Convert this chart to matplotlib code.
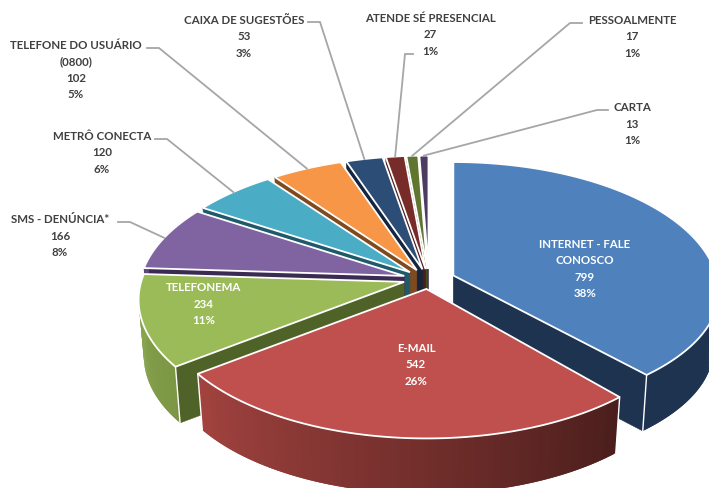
import numpy as np
import matplotlib
matplotlib.use("Agg")
import matplotlib.pyplot as plt
from matplotlib.colors import LinearSegmentedColormap
from matplotlib.patches import Polygon

# ---- data ----
categories = ["INTERNET - FALE\nCONOSCO", "E-MAIL", "TELEFONEMA", "SMS - DENÚNCIA*", "METRÔ CONECTA",
              "TELEFONE DO USUÁRIO\n(0800)", "CAIXA DE SUGESTÕES", "ATENDE SÉ PRESENCIAL",
              "PESSOALMENTE", "CARTA"]
values = [799, 542, 234, 166, 120, 102, 53, 27, 17, 13]
percents = ["38%", "26%", "11%", "8%", "6%", "5%", "3%", "1%", "1%", "1%"]

# ---- styles ----
top_colors = ["#4f81bd", "#c0504d", "#9bbb59", "#8064a2", "#4bacc6", "#f79646",
              "#2c4d75", "#772c2a", "#5f7530", "#4d3b62"]
face_colors = ["#1d334f", "#4d1f1c", "#4f6228", "#3b2b52", "#1f5a6b", "#7f4a1e",
               "#14253f", "#4f1a18", "#3f4f20", "#2d2340"]
outer_colors = [("#1d334f", "#1d334f"), ("#4a1e1c", "#a3433f"), ("#7c9645", "#8aa94f"),
                ("#5c4877", "#5c4877"), ("#35809a", "#35809a"), ("#b66d31", "#b66d31"),
                ("#1f3856", "#1f3856"), ("#561f1e", "#561f1e"), ("#455623", "#455623"),
                ("#372a47", "#372a47")]
label_pos = [(585, 269), (416, 365), (204, 304), (60, 236), (102, 153), (76, 70),
             (244, 37), (430, 35), (632, 37), (632, 124)]
label_white = [True, True, True] + [False] * 7
elbows = [None, None, None,
          [(118, 223), (130, 223)], [(155, 140), (167, 140)], [(147, 49), (159, 49)],
          [(308, 23), (320, 23)], [(413, 55), (405, 55)], [(582, 24), (570, 24)],
          [(608, 111), (597, 111)]]
front_scale = [0.92, 1, 1, 1, 1, 1, 1, 1, 1, 1]

# ---- geometry of the 3-D pie, in pixels ----
W, H = 709, 489
CX, CY = 429, 280        # pie centre
EX, EY = 26, 10          # explosion of every slice
A, B, P = 263, 129, 0.137  # radii and perspective
DEPTH, SHRINK = 57, 0.98

fig = plt.figure(figsize=(W / 100, H / 100), dpi=100, facecolor="white")
ax = fig.add_axes([0, 0, 1, 1])
ax.set_xlim(0, W)
ax.set_ylim(H, 0)
ax.axis("off")

fracs = np.array(values) / np.sum(values)
edges = np.concatenate([[0], np.cumsum(fracs)]) * 2 * np.pi


def apex(i):
    b = (edges[i] + edges[i + 1]) / 2
    return CX + EX * np.sin(b), CY - EY * np.cos(b)


def rim(i, t, bottom=False):
    ax0, ay0 = apex(i)
    s = 1 / (1 + P * np.cos(t))
    x = ax0 + A * np.sin(t) * s
    by = B * (front_scale[i] if np.cos(t) < 0 else 1)
    y = ay0 - by * np.cos(t) * s
    if bottom:
        x = ax0 + (x - ax0) * SHRINK
        y = ay0 + (y - ay0) * 0.99 + DEPTH
    return x, y


def apex_bottom(i):
    x, y = apex(i)
    return x, y + DEPTH


def draw_slice(i, z):
    t0, t1 = edges[i], edges[i + 1]
    a = apex(i)
    ab = apex_bottom(i)
    # cut face at the end angle, then the one at the start angle
    for t, vis in ((t1, t1 < np.pi), (t0, t0 > np.pi)):
        if vis:
            ax.add_patch(Polygon([a, rim(i, t), rim(i, t, True), ab], closed=True,
                                 fc=face_colors[i], ec=face_colors[i], lw=0.4, zorder=z))
    # outer wall, only the part facing the viewer; each strip overlaps the next
    cmap = LinearSegmentedColormap.from_list("w", outer_colors[i])
    n = max(int((t1 - t0) * 90), 2)
    ts = np.linspace(t0, t1, n + 1)
    for k in range(n):
        if np.cos((ts[k] + ts[k + 1]) / 2) > 0.12:
            continue
        c = cmap((k + 0.5) / n)
        t2 = ts[min(k + 2, n)]
        ax.add_patch(Polygon([rim(i, ts[k]), rim(i, ts[k + 1]), rim(i, t2),
                              rim(i, t2, True), rim(i, ts[k + 1], True), rim(i, ts[k], True)],
                             closed=True, fc=c, ec="none", zorder=z + 0.1))
    # white arrises of the visible walls
    for t in (t0, t1):
        if np.cos(t) < 0.05:
            p, q = rim(i, t), rim(i, t, True)
            ax.plot([p[0], q[0]], [p[1], q[1]], color="white", lw=1.0, zorder=z + 0.2)
    # top surface
    tt = np.linspace(t0, t1, 120)
    pts = [a] + [rim(i, t) for t in tt]
    ax.add_patch(Polygon(pts, closed=True, fc=top_colors[i], ec="white", lw=1.3,
                         joinstyle="miter", zorder=z + 0.3))


order = [9, 8, 7, 6, 5, 4, 3, 2, 0, 1]
for n, i in enumerate(order):
    draw_slice(i, 2 + n)

# ---- labels and leaders ----
FONT = "Lato"
for i, name in enumerate(categories):
    x, y = label_pos[i]
    col = "white" if label_white[i] else "#404040"
    ax.text(x, y, f"{name}\n{values[i]}\n{percents[i]}", ha="center", va="center",
            multialignment="center", color=col, fontsize=8.3, fontweight="bold",
            family=FONT, linespacing=1.62, zorder=30)
    if elbows[i] is not None:
        end = rim(i, (edges[i] + edges[i + 1]) / 2)
        xs = [p[0] for p in elbows[i]] + [end[0]]
        ys = [p[1] for p in elbows[i]] + [end[1]]
        ax.plot(xs, ys, color="#a6a6a6", lw=1.3, zorder=29, solid_joinstyle="miter")

fig.savefig("out.png", dpi=100, facecolor="white")
